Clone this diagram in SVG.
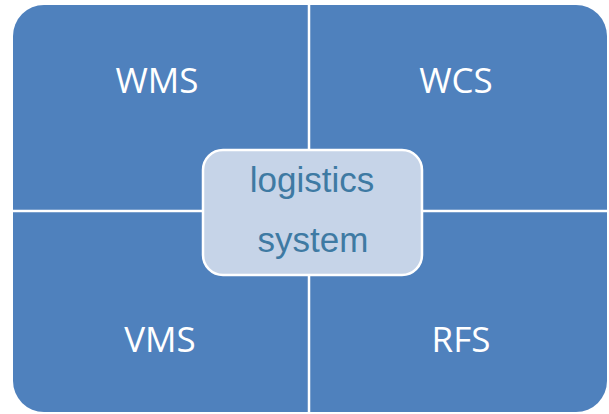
<svg xmlns="http://www.w3.org/2000/svg" width="609" height="414" viewBox="0 0 609 414">
<style>
.q{fill:#4f81bd}
.lbl{font-family:"Open Sans","Liberation Sans",sans-serif;font-size:35px;fill:#ffffff;text-anchor:middle}
.ctr{font-family:"Liberation Sans",Arial,sans-serif;font-size:35px;fill:#3e7aa3;text-anchor:middle}
.div{stroke:#ffffff;stroke-width:2.5}
</style>
<rect width="609" height="414" fill="#ffffff"/>
<g id="WMS">
<path class="q" d="M13,211 V36 A31,31 0 0 1 44,5 H309 V211 Z"/>
<text class="lbl" x="157" y="93">WMS</text>
</g>
<g id="WCS">
<path class="q" d="M309,5 H576 A31,31 0 0 1 607,36 V211 H309 Z"/>
<text class="lbl" x="456" y="93">WCS</text>
</g>
<g id="VMS">
<path class="q" d="M13,211 H309 V412 H44 A31,31 0 0 1 13,381 Z"/>
<text class="lbl" x="160" y="352">VMS</text>
</g>
<g id="RFS">
<path class="q" d="M309,211 H607 V381 A31,31 0 0 1 576,412 H309 Z"/>
<text class="lbl" x="461" y="352">RFS</text>
</g>
<g id="connectors">
<line class="div" x1="309" y1="5" x2="309" y2="412"/>
<line class="div" x1="13" y1="211" x2="607" y2="211"/>
</g>
<g id="logistics-system">
<rect x="203" y="150" width="219" height="125" rx="20" ry="20" fill="#c6d4e8" stroke="#ffffff" stroke-width="2.5"/>
<text class="ctr" x="312" y="192">logistics</text>
<text class="ctr" x="313" y="252">system</text>
</g>
</svg>
